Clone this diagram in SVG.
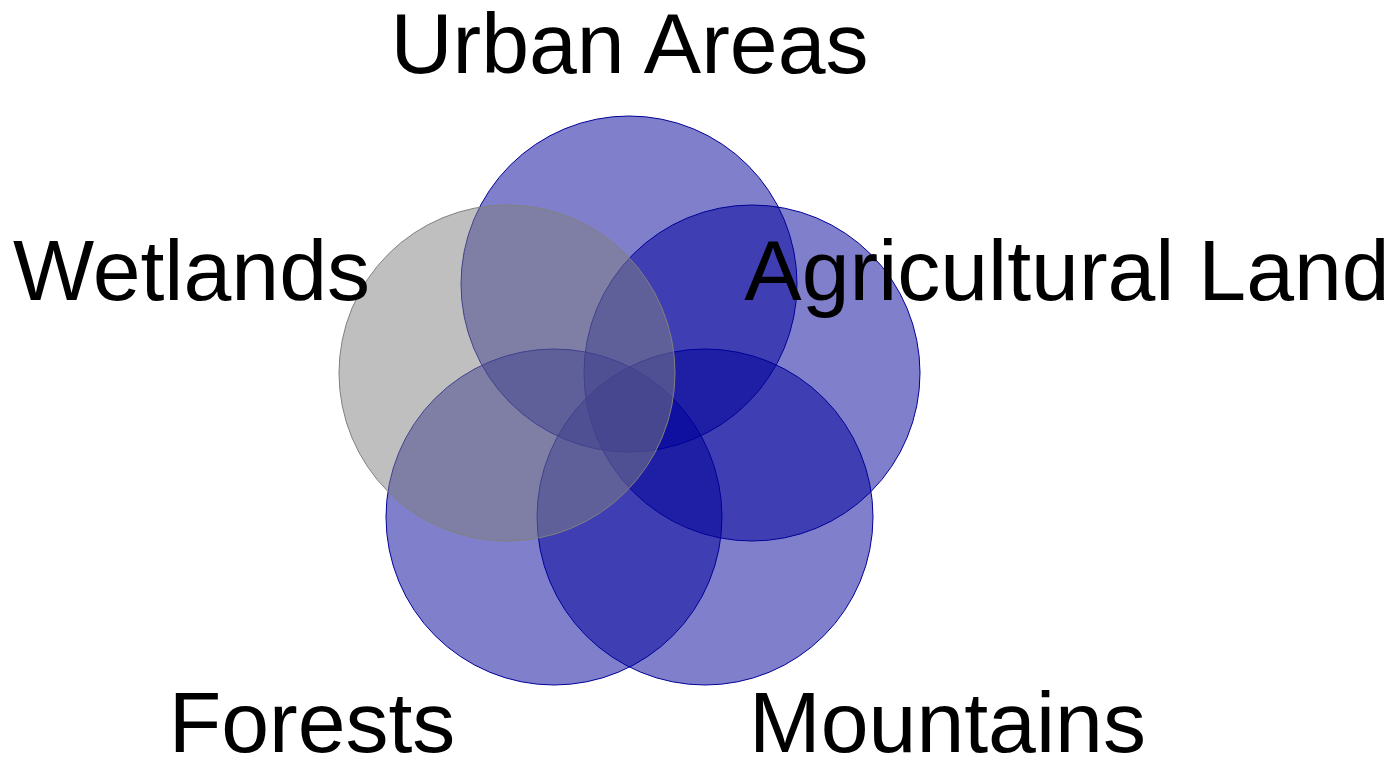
<svg xmlns="http://www.w3.org/2000/svg" width="1399" height="758" viewBox="0 0 1399 758">
<style>
.set{fill:#000099;fill-opacity:0.5;stroke:#000099;stroke-width:1}
.gray{fill:#808080;fill-opacity:0.5;stroke:#808080;stroke-width:1}
.lbl{font-family:"Liberation Sans",Arial,sans-serif;font-size:86px;fill:#000;text-anchor:middle}
</style>
<rect width="1399" height="758" fill="#fff"/>
<g id="urban"><circle class="set" cx="629" cy="284" r="168"/></g>
<g id="agricultural"><circle class="set" cx="752" cy="373" r="168"/></g>
<g id="mountains"><circle class="set" cx="705" cy="517" r="168"/></g>
<g id="forests"><circle class="set" cx="554" cy="517" r="168"/></g>
<g id="wetlands"><circle class="gray" cx="507" cy="373" r="168"/></g>
<g id="connectors"></g>
<g id="labels">
<text class="lbl" x="629.5" y="73">Urban Areas</text>
<text class="lbl" x="1067" y="300">Agricultural Land</text>
<text class="lbl" x="191.5" y="300">Wetlands</text>
<text class="lbl" x="312" y="752">Forests</text>
<text class="lbl" x="947.5" y="752">Mountains</text>
</g>
</svg>
